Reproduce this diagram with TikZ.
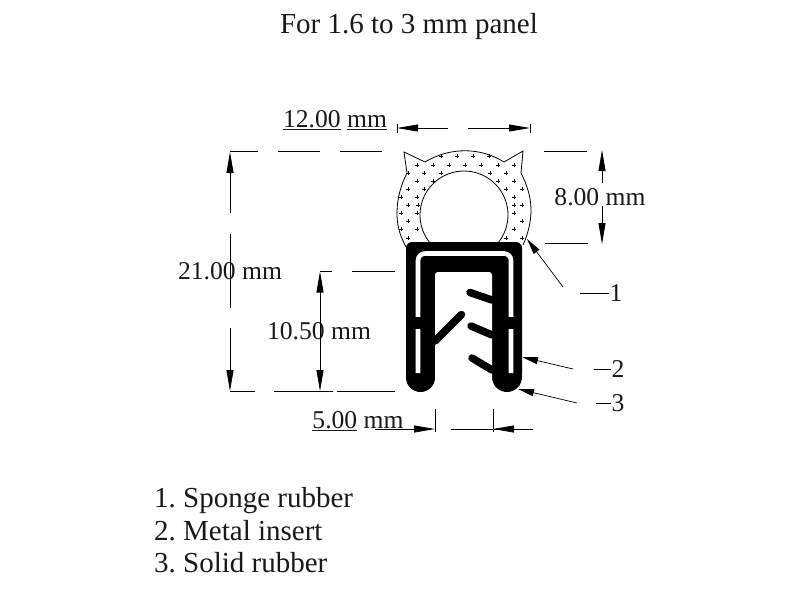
\documentclass[tikz,border=0pt]{standalone}
\usepackage{fontspec}
\setmainfont{Liberation Serif}
\usetikzlibrary{arrows.meta}
\tikzset{
dim/.style={line width=0.8pt},
headed/.style={line width=0.8pt, -{Triangle[length=21pt,width=7pt]}},
leader/.style={line width=0.7pt, -{Triangle[length=16pt,width=7pt]}},
dimtext/.style={font=\fontsize{25.6}{28}\selectfont\frenchspacing, inner sep=0pt, text=black!90},
listtext/.style={font=\fontsize{29}{31}\selectfont\frenchspacing, inner sep=0pt, text=black!90},
fin/.style={line width=7.5pt, line cap=round},
spot/.style={line width=0.9pt},
}
\begin{document}
\begin{tikzpicture}[x=1pt,y=-1pt]
\useasboundingbox (0,0) rectangle (800,600);

%% title and legend
\node[listtext] (title) at (409,27) {For 1.6 to 3 mm panel};
\node[listtext, anchor=west] (legend_one) at (154,501) {1. Sponge rubber};
\node[listtext, anchor=west] (legend_two) at (154,531) {2. Metal insert};
\node[listtext, anchor=west] (legend_three) at (154,563) {3. Solid rubber};

%% sponge rubber
\draw[dim] (406,247) .. controls (398,232) and (397,222) .. (397,213) .. controls (397,198) and (401,185) .. (407,173) -- (404,152) -- (425,162) .. controls (450,147) and (480,147) .. (504,162) -- (523,151) -- (521,173) .. controls (527,185) and (531,197) .. (531,210) .. controls (531,222) and (528,234) .. (523,245);
\draw[dim] (464,215) ++(142:44) arc[start angle=142, end angle=398, radius=44];
\foreach \x/\y in {
441/156,457/156,473/156,489/156,
417/165,433/165,449/165,465/165,481/165,498/165,514/165,
408/173,424/173,441/173,490/173,506/173,
417/181,433/181,498/181,514/181,
408/189,424/189,506/189,522/189,
401/197,417/197,514/197,
408/205,418/205,514/205,522/205,
401/213,417/213,514/213,
408/221,522/221,
401/229,417/229,514/229,
408/238,506/238,522/238}
  \draw[spot] (\x-2,\y) -- (\x+2,\y) (\x,\y-2) -- (\x,\y+2);

%% solid rubber
\fill[black, rounded corners=6pt] (406,380) -- (406,242) -- (522,242) -- (522,380) -- cycle;
\fill[black] (420.5,377.5) circle (14.5);
\fill[black] (507,377) circle (15);
\fill[white] (435,382) rectangle (492,394);
\fill[white, rounded corners=3pt] (435,272) -- (492,272) -- (492,386) -- (435,386) -- cycle;
\fill[white] (435,280) rectangle (492,386);

%% metal insert
\draw[white, line width=4.6pt, rounded corners=7pt] (418,373) -- (418,253.5) -- (511,253.5) -- (511,373);
\fill[black] (412,317) rectangle (424,329);
\fill[black] (505,317) rectangle (517,329);

%% fins
\draw[fin] (435,341) -- (461.5,314.5);
\draw[fin] (470,292.5) -- (492,300);
\draw[fin] (471,326) -- (492,335);
\draw[fin] (472,358) -- (492,370);

%% 12 mm
\node[dimtext] (dim_twelve) at (335,120) {\underline{12.00} \underline{mm}};
\coordinate (w_left) at (397,128);
\coordinate (w_left_in) at (448,128);
\coordinate (w_right_in) at (468,128);
\coordinate (w_right) at (530,128);
\draw[headed] (w_left_in) -- (w_left);
\draw[headed] (w_right_in) -- (w_right);
\draw[dim] (397,124) -- (397,133);
\draw[dim] (530,124) -- (530,133);

%% 8 mm
\node[dimtext] (dim_eight) at (600,197) {8.00 mm};
\coordinate (h_top) at (602,150);
\coordinate (h_top_in) at (602,183);
\coordinate (h_bot_in) at (602,206);
\coordinate (h_bot) at (602,244);
\draw[headed] (h_top_in) -- (h_top);
\draw[headed] (h_bot_in) -- (h_bot);
\draw[dim] (544,151) -- (587,151);
\draw[dim] (545,243) -- (588,243);

%% 21 mm
\node[dimtext] (dim_twentyone) at (230,271) {21.00 mm};
\coordinate (a_top) at (230,152);
\coordinate (a_top_in) at (230,213);
\coordinate (a_bot_in) at (230,328);
\coordinate (a_bot) at (230,391);
\draw[headed] (a_top_in) -- (a_top);
\draw[dim] (230,234) -- (230,308);
\draw[headed] (a_bot_in) -- (a_bot);
\draw[dim] (230,151.5) -- (258,151.5);
\draw[dim] (278,151.5) -- (320,151.5);
\draw[dim] (340,151.5) -- (382,151.5);

%% 10.5 mm
\node[dimtext] (dim_ten) at (319,331) {10.50 mm};
\coordinate (b_top) at (320,271.5);
\coordinate (b_mid) at (320,331);
\coordinate (b_bot) at (320,391);
\draw[headed] (b_mid) -- (b_top);
\draw[headed] (b_mid) -- (b_bot);
\draw[dim] (320,271.5) -- (332,271.5);
\draw[dim] (352,271.5) -- (395,271.5);
\draw[dim] (230,391) -- (255,391);
\draw[dim] (274,391) -- (333,391);
\draw[dim] (337,391) -- (395,391);

%% 5 mm
\node[dimtext] (dim_five) at (358,421) {\underline{5.00} mm};
\coordinate (c_left) at (435,429);
\coordinate (c_right) at (493,429);
\draw[headed] (375,429) -- (c_left);
\draw[headed] (533,429) -- (c_right);
\draw[dim] (451,429) -- (533,429);
\draw[dim] (435,409) -- (435,432);
\draw[dim] (493,409) -- (493,432);

%% item labels
\node[dimtext] (item_one) at (616,293) {1};
\node[dimtext] (item_two) at (618,369) {2};
\node[dimtext] (item_three) at (618,403) {3};
\coordinate (lead_one) at (563,287);
\coordinate (lead_two) at (573,369);
\coordinate (lead_three) at (577,403);
\draw[leader] (lead_one) -- (527,239);
\draw[leader] (lead_two) -- (522,357);
\draw[leader] (lead_three) -- (518,389);
\draw[dim] (580,293) -- (item_one.west);
\draw[dim] (594,369) -- (item_two.west);
\draw[dim] (596,403) -- (item_three.west);
\end{tikzpicture}
\end{document}
